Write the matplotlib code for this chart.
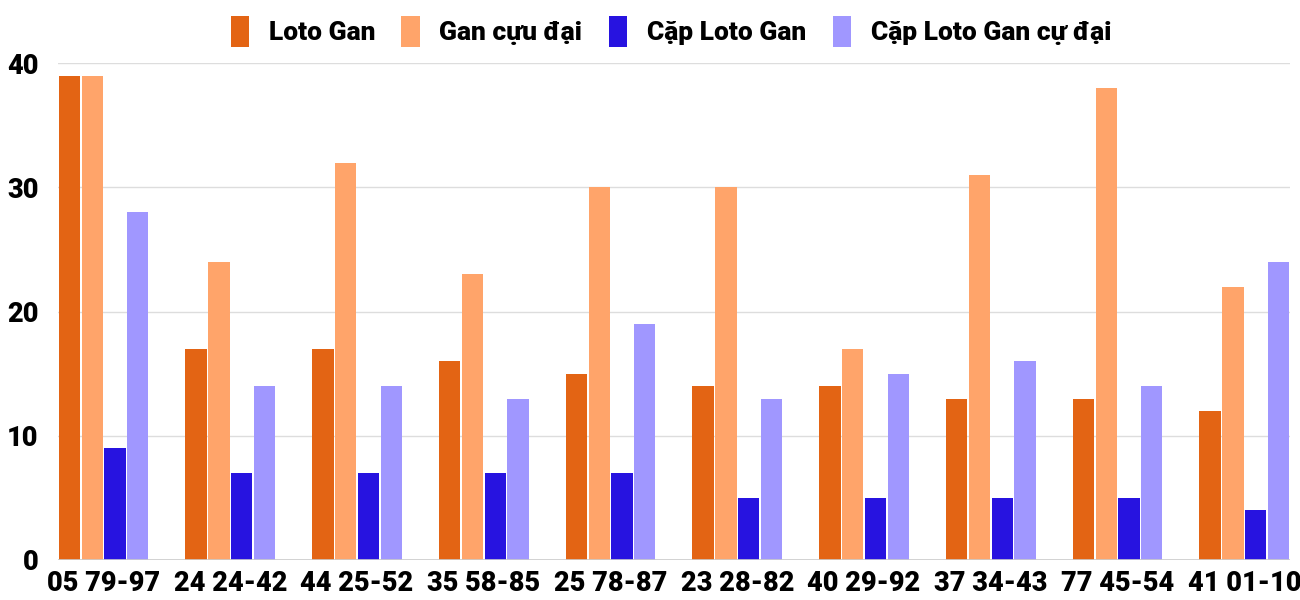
import matplotlib
matplotlib.use("Agg")
import matplotlib.pyplot as plt
import numpy as np

categories = ["05 79-97", "24 24-42", "44 25-52", "35 58-85", "25 78-87",
              "23 28-82", "40 29-92", "37 34-43", "77 45-54", "41 01-10"]
loto_gan = [39, 17, 17, 16, 15, 14, 14, 13, 13, 12]
gan_cuc_dai = [39, 24, 32, 23, 30, 30, 17, 31, 38, 22]
cap_loto_gan = [9, 7, 7, 7, 7, 5, 5, 5, 5, 4]
cap_loto_gan_cuc_dai = [28, 14, 14, 13, 19, 13, 15, 16, 14, 24]

series_names = ["Loto Gan", "Gan cựu đại", "Cặp Loto Gan", "Cặp Loto Gan cự đại"]
series = [loto_gan, gan_cuc_dai, cap_loto_gan, cap_loto_gan_cuc_dai]
colors = ["#E36414", "#FFA46A", "#2713E0", "#A097FF"]

plt.rcParams['font.family'] = ['Roboto', 'DejaVu Sans']

fig = plt.figure(figsize=(13, 6), dpi=100)
ax = fig.add_axes([0.0446, 0.0667, 0.9477, 0.828])

x = np.arange(len(categories))
step = 0.18
width = 0.168
handles = []
for i, (vals, c, name) in enumerate(zip(series, colors, series_names)):
    offs = (i - 1.5) * step
    b = ax.bar(x + offs, vals, width=width, color=c, label=name, zorder=3)
    handles.append(b)

ax.set_xlim(-0.36, len(categories) - 1 + 0.36)
ax.set_ylim(0, 40)
ax.set_yticks([0, 10, 20, 30, 40])
ax.set_xticks(x)
ax.set_xticklabels(categories)
ax.grid(axis='y', color='#DDDDDD', linewidth=1, zorder=0)
ax.axhline(0, color='#CCCCCC', linewidth=1.2, zorder=4)
for s in ax.spines.values():
    s.set_visible(False)
ax.tick_params(axis='both', length=0, labelsize=19.5)
ax.tick_params(axis='x', pad=7)
ax.tick_params(axis='y', pad=14)
for lab in ax.get_xticklabels() + ax.get_yticklabels():
    lab.set_fontweight('black')

fig.legend(handles=handles, labels=series_names, loc='center', bbox_to_anchor=(0.516, 0.948),
           ncol=4, frameon=False, handlelength=0.7, handleheight=1.45,
           handletextpad=0.74, columnspacing=1.0,
           prop={'weight': 'black', 'size': 19})

fig.savefig("out.png", dpi=100)
